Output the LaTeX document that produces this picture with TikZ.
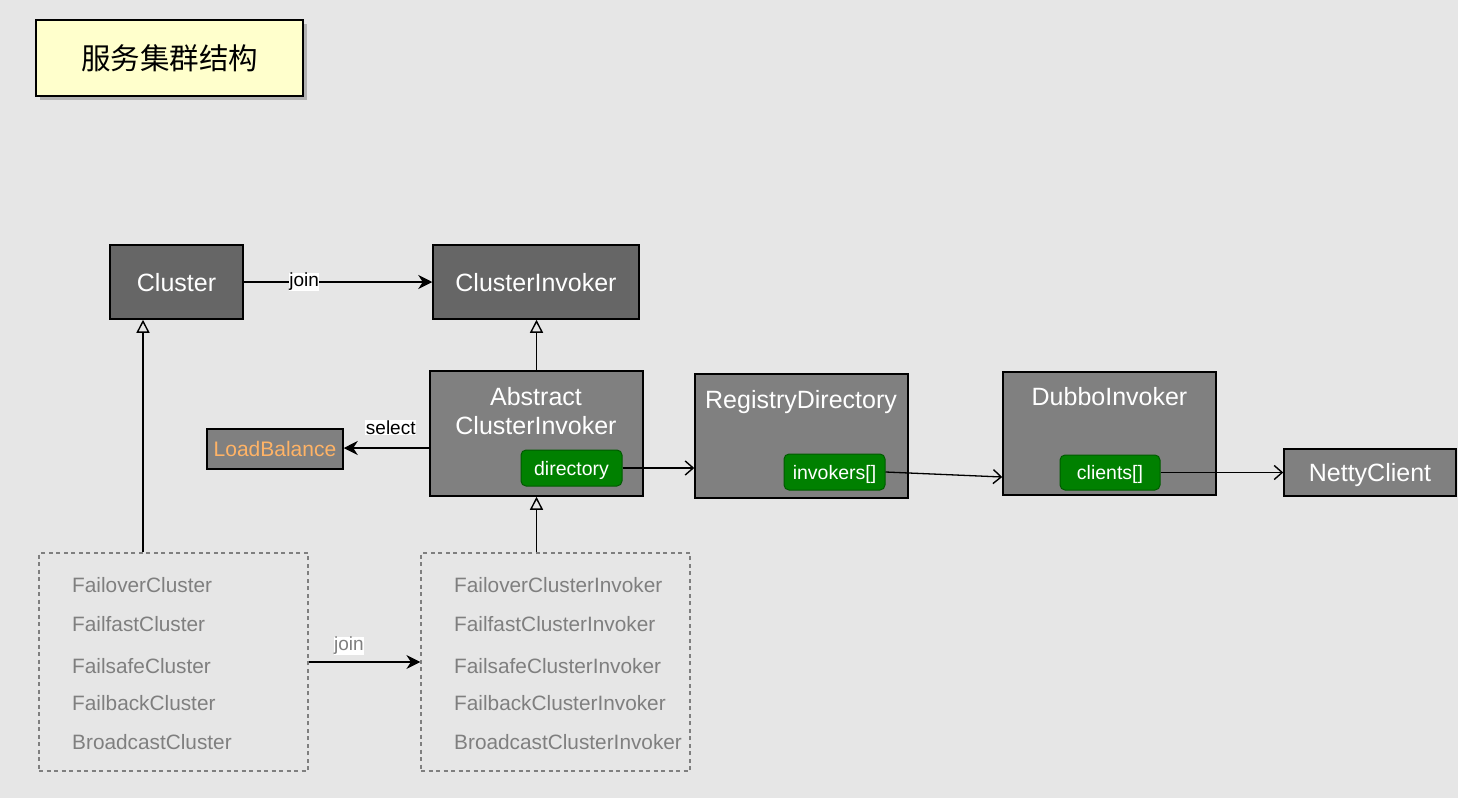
\documentclass[tikz,border=0pt]{standalone}
\usepackage{fontspec}
\setmainfont{Liberation Sans}
\newfontfamily\cjk{Noto Sans CJK SC}
\usepackage{tikz}
\usetikzlibrary{arrows.meta,positioning}
\definecolor{bggray}{HTML}{E6E6E6}
\definecolor{notecol}{HTML}{FFFFCC}
\definecolor{boxdark}{HTML}{666666}
\definecolor{boxlight}{HTML}{808080}
\definecolor{fieldgreen}{HTML}{008000}
\definecolor{fieldedge}{HTML}{005A00}
\definecolor{lbtext}{HTML}{FFB366}
\definecolor{impltext}{HTML}{7F7F7F}

\begin{document}
\begin{tikzpicture}[x=1pt,y=-1pt]
\tikzstyle{every node}+=[inner sep=0pt]
\tikzstyle{darkbox}=[draw=black, line width=1.5pt, fill=boxdark, text=white, font=\fontsize{25}{29}\selectfont, text height=18pt, text depth=0pt]
\tikzstyle{lightbox}=[draw=black, line width=1.5pt, fill=boxlight]
\tikzstyle{boxtext}=[text=white, font=\fontsize{25}{29}\selectfont, align=center]
\tikzstyle{field}=[draw=fieldedge, line width=1pt, fill=fieldgreen, rounded corners=5pt, text=white, font=\fontsize{19.5}{22}\selectfont, text height=14pt, text depth=0pt]
\tikzstyle{family}=[draw=impltext, line width=1.2pt, dash pattern=on 4pt off 3.5pt, minimum width=269pt, minimum height=218pt]
\tikzstyle{impl}=[text=impltext, font=\fontsize{20.8}{24}\selectfont, anchor=base west]
\tikzstyle{lbl}=[fill=white, inner sep=0.5pt, font=\fontsize{19}{22}\selectfont]
\tikzstyle{inherit}=[line width=1.3pt, -{Triangle[open, length=13pt, width=13pt, line width=1.4pt, fill=bggray]}]
\tikzstyle{assoc}=[line width=1.3pt, -{Stealth[length=14pt, width=14pt, inset=4.5pt]}]
\tikzstyle{ref}=[line width=1.3pt, -{Straight Barb[length=8pt, width=14pt, line width=1.4pt]}]

% background
\fill[bggray] (0,0) rectangle (1458,798);
\fill[white] (1458,0) rectangle (1461,798);

% title
\fill[black!30] (40,24) rectangle (307,100);
\node[draw=black, line width=1.5pt, fill=notecol, minimum width=267pt, minimum height=76pt, font=\cjk\fontsize{29.5}{34}\selectfont] (title) at (169.5,58) {服务集群结构};

% interfaces
\node[darkbox, minimum width=133pt, minimum height=74pt] (cl) at (176.5,282) {Cluster};
\node[darkbox, minimum width=206pt, minimum height=74pt] (ci) at (536,282) {ClusterInvoker};

% abstract invoker
\node[lightbox, minimum width=213pt, minimum height=125pt] (abs) at (536.5,433.5) {};
\node[boxtext] (absname) at (536,411) {Abstract\\ClusterInvoker};
\node[field, minimum width=101pt, minimum height=36pt] (dir) at (571.5,468) {directory};

\node[lightbox, minimum width=136pt, minimum height=40pt, text=lbtext, font=\fontsize{21}{25}\selectfont, text height=15pt, text depth=0pt] (lb) at (275,449) {LoadBalance};

% directory
\node[lightbox, minimum width=213pt, minimum height=124pt] (reg) at (801.5,436) {};
\node[boxtext, anchor=base] (regname) at (801,408) {RegistryDirectory};
\node[field, minimum width=101pt, minimum height=36pt] (inv) at (834.5,472) {invokers[]};

% dubbo invoker
\node[lightbox, minimum width=213pt, minimum height=123pt] (dub) at (1109.5,433.5) {};
\node[boxtext, anchor=base] (dubname) at (1109.5,405) {DubboInvoker};
\node[field, minimum width=100pt, minimum height=35pt] (cli) at (1110,472.5) {clients[]};

\node[lightbox, minimum width=172pt, minimum height=47pt, text=white, font=\fontsize{25}{29}\selectfont, text height=18pt, text depth=0pt] (netty) at (1370,472.5) {NettyClient};

% implementations
\node[family] (famA) at (173.5,662) {};
\node[impl] (fa1) at (72,592.5) {FailoverCluster};
\node[impl] (fa2) at (72,631.5) {FailfastCluster};
\node[impl] (fa3) at (72,673.5) {FailsafeCluster};
\node[impl] (fa4) at (72,710.5) {FailbackCluster};
\node[impl] (fa5) at (72,749.5) {BroadcastCluster};

\node[family] (famB) at (555.5,662) {};
\node[impl] (fb1) at (454,592.5) {FailoverClusterInvoker};
\node[impl] (fb2) at (454,631.5) {FailfastClusterInvoker};
\node[impl] (fb3) at (454,673.5) {FailsafeClusterInvoker};
\node[impl] (fb4) at (454,710.5) {FailbackClusterInvoker};
\node[impl] (fb5) at (454,749.5) {BroadcastClusterInvoker};

% connectors
\draw[assoc] (cl) -- (ci) node[lbl, pos=0.32] (j1) {join};
\draw[inherit] (abs.north) -- (abs.north |- ci.south);
\coordinate (upA) at ([xshift=-30.5pt]famA.north);
\draw[inherit] (upA) -- (upA |- cl.south);
\draw[inherit] (abs.south |- famB.north) -- (abs.south);
\draw[assoc] (abs.west |- 0,448) -- (lb.east |- 0,448) node[lbl, pos=0.45, above=12pt] (sel) {select};
\draw[ref] (dir.east) -- (reg.west |- dir.east);
\coordinate (dubIn) at ([yshift=-43.5pt]dub.west);
\draw[ref] (inv.east) -- (dubIn);
\draw[ref] (cli.east) -- (netty.west |- cli.east);
\draw[assoc] (famA.east) -- (famB.west) node[lbl, pos=0.36, above=6pt, text=impltext] (j2) {join};
\end{tikzpicture}
\end{document}
